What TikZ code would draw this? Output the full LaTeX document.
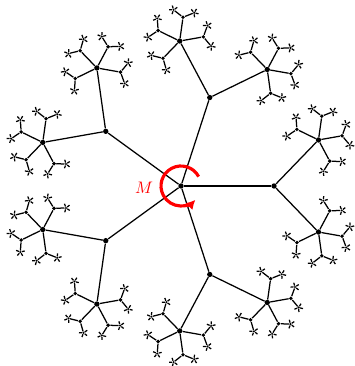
\documentclass[tikz,border=0pt]{standalone}
\usepackage{tikz}
\usetikzlibrary{arrows.meta}

\begin{document}
\begin{tikzpicture}[
    x=0.6pt, y=0.6pt,
    edge/.style={line width=0.75pt},
    bigdot/.style={circle, fill, inner sep=0pt, minimum size=3.2pt},
    middot/.style={circle, fill, inner sep=0pt, minimum size=2.3pt},
    tinydot/.style={circle, fill, inner sep=0pt, minimum size=1.4pt}
  ]
    \useasboundingbox (0,0) rectangle (354,366);
    \node[bigdot] (c) at (181,180) {};
    % five branches, alternating 3- and 5-valent vertices
    \foreach \da [count=\ia] in {0,72,...,288} {
      \path (c) ++(\da:93) node[bigdot] (n\ia) {};
      \draw[edge] (c) -- (n\ia);
      \foreach \db [count=\ib] in {-46,46} {
        \pgfmathsetmacro{\angB}{\da+\db}
        \path (n\ia) ++(\angB:64) node[bigdot] (n\ia-\ib) {};
        \draw[edge] (n\ia) -- (n\ia-\ib);
        \foreach \dc [count=\ic] in {-108,-36,36,108} {
          \pgfmathsetmacro{\angC}{\angB+\dc}
          \path (n\ia-\ib) ++(\angC:24) node[middot] (n\ia-\ib-\ic) {};
          \draw[edge] (n\ia-\ib) -- (n\ia-\ib-\ic);
          \foreach \dd [count=\id] in {-60,60} {
            \pgfmathsetmacro{\angD}{\angC+\dd}
            \path (n\ia-\ib-\ic) ++(\angD:12) node[tinydot] (n\ia-\ib-\ic-\id) {};
            \draw[edge] (n\ia-\ib-\ic) -- (n\ia-\ib-\ic-\id);
            \foreach \dx [count=\ix] in {-108,-36,36,108} {
              \pgfmathsetmacro{\angE}{\angD+\dx}
              \path (n\ia-\ib-\ic-\id) ++(\angE:4.5) coordinate (n\ia-\ib-\ic-\id-\ix);
              \draw[edge] (n\ia-\ib-\ic-\id) -- (n\ia-\ib-\ic-\id-\ix);
            }
          }
        }
      }
    }
    % rotation about the centre
    \draw[red, line width=1.9pt, -{Latex[length=5.5pt,width=6pt]}]
      (c) ++(28:20) arc[start angle=28, end angle=316, radius=20];
    \node[text=red] (m) at (144,178.5) {$M$};
  \end{tikzpicture}
\end{document}
